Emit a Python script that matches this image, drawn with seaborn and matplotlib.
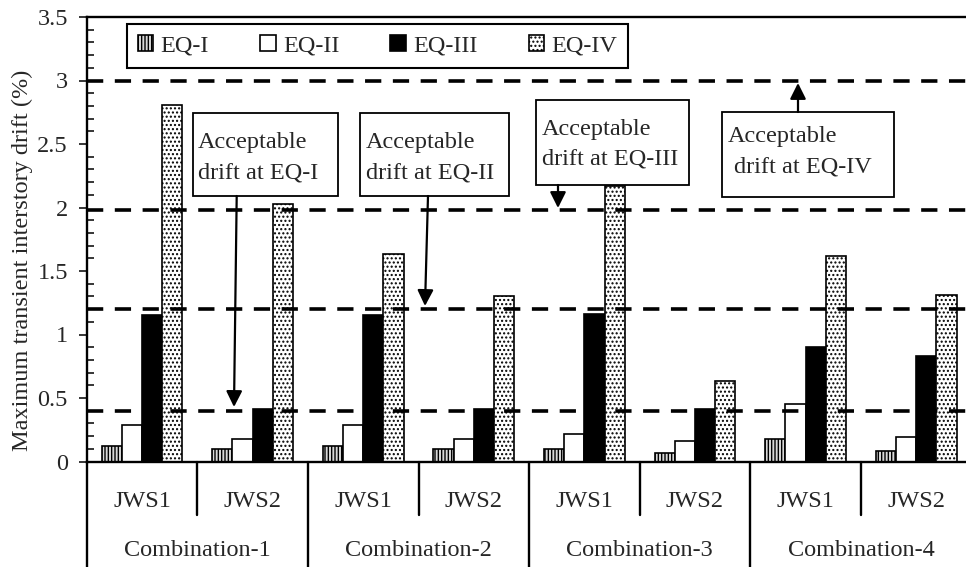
import numpy as np
import pandas as pd
import matplotlib
matplotlib.use('Agg')
import matplotlib.pyplot as plt
import seaborn as sns
from matplotlib.patches import Rectangle, Patch
from matplotlib.lines import Line2D
import matplotlib.transforms as mtrans
from matplotlib.ticker import MultipleLocator, FuncFormatter

# ---------------- data ----------------
combinations = ['Combination-1', 'Combination-2', 'Combination-3', 'Combination-4']
walls = ['JWS1', 'JWS2']
eq_levels = ['EQ-I', 'EQ-II', 'EQ-III', 'EQ-IV']
eq1 = [0.12, 0.10, 0.12, 0.10, 0.10, 0.07, 0.18, 0.08]
eq2 = [0.285, 0.18, 0.285, 0.18, 0.22, 0.16, 0.45, 0.195]
eq3 = [1.15, 0.41, 1.15, 0.41, 1.165, 0.41, 0.90, 0.83]
eq4 = [2.81, 2.03, 1.63, 1.30, 2.17, 0.63, 1.62, 1.31]
limit_values = [0.4, 1.2, 1.98, 3.0]
note_line1 = 'Acceptable'
note_line2 = ['drift at EQ-I', 'drift at EQ-II', 'drift at EQ-III', 'drift at EQ-IV']
y_label = 'Maximum transient interstory drift (%)'

# ---------------- style ----------------
sns.set_style('white')
plt.rcParams['font.family'] = ['Liberation Serif', 'DejaVu Serif']
plt.rcParams['hatch.linewidth'] = 1.0
plt.rcParams['hatch.color'] = 'black'

slots = [f'{c}|{w}' for c in combinations for w in walls]
rows = []
for lvl, vals in zip(eq_levels, [eq1, eq2, eq3, eq4]):
    for s, v in zip(slots, vals):
        rows.append(dict(slot=s, level=lvl, drift=v))
df = pd.DataFrame(rows)

W, H = 966, 567
fig = plt.figure(figsize=(W / 100, H / 100), dpi=100)
AX_L, AX_R, AX_T, AX_B = 86.7, 971.5, 17.0, 461.5
ax = fig.add_axes([AX_L / W, 1 - AX_B / H, (AX_R - AX_L) / W, (AX_B - AX_T) / H])

face = {'EQ-I': '#d9d9d9', 'EQ-II': 'white', 'EQ-III': 'black', 'EQ-IV': 'white'}
hatch = {'EQ-I': '|||||', 'EQ-II': None, 'EQ-III': None, 'EQ-IV': '....'}

sns.barplot(data=df, x='slot', y='drift', hue='level', order=slots, hue_order=eq_levels,
            palette=face, width=0.73, gap=0, saturation=1, edgecolor='black',
            linewidth=1.2, legend=False, errorbar=None, ax=ax)
for lvl, cont in zip(eq_levels, ax.containers):
    for p in cont:
        if hatch[lvl]:
            p.set_hatch(hatch[lvl])

ax.set_xlim(-0.5, 7.5)
ax.set_ylim(0, 3.5)
ax.set_xlabel('')
ax.set_ylabel('')
ax.yaxis.set_major_locator(MultipleLocator(0.5))
ax.yaxis.set_minor_locator(MultipleLocator(0.1))
ax.yaxis.set_major_formatter(FuncFormatter(lambda v, _: f'{v:g}'))
ax.tick_params(axis='y', which='major', direction='out', length=5.8, width=1.3,
               labelsize=17.5, pad=7.7, left=True)
ax.tick_params(axis='y', which='minor', direction='in', length=5, width=1.3, left=True)
ax.tick_params(axis='x', length=0, labelbottom=False)
for side in ['left', 'top', 'bottom']:
    ax.spines[side].set_visible(True)
    ax.spines[side].set_linewidth(1.7)
    ax.spines[side].set_color('black')
ax.spines['right'].set_visible(False)

for v in limit_values:
    ax.axhline(v, color='black', lw=2.6, dashes=(4.5, 3.2), zorder=3)

# legend
handles = [Patch(facecolor=face[l], edgecolor='black', hatch=hatch[l], lw=1.2) for l in eq_levels]
leg = ax.legend(handles, eq_levels, ncol=4, loc='center',
                bbox_to_anchor=(377.5 / W, 1 - 46 / H), bbox_transform=fig.transFigure,
                frameon=True, fancybox=False, edgecolor='black', framealpha=1,
                fontsize=17.5, handlelength=0.64, handleheight=0.64, handletextpad=0.3,
                columnspacing=2.1, borderpad=0.45, borderaxespad=0)
leg.get_frame().set_linewidth(1.5)


# ---------------- annotations ----------------
def dx(px):
    return (px - AX_L) / (AX_R - AX_L) * 8 - 0.5


def dy(py):
    return (AX_B - py) / (AX_B - AX_T) * 3.5


boxes = [
    # (x0, y0, x1, y1, text_x1, text_x2, base1, base2, arrow_from, arrow_to)
    (193, 113, 338, 196, 198, 198, 148, 178, (236.7, 196), (234, 407)),
    (360, 113, 509, 196, 366, 366, 148, 178, (428, 196), (425, 306)),
    (536, 100, 689, 185, 542, 542, 135, 165, (558, 185), (558, 208)),
    (722, 112, 894, 197, 728, 734, 142, 172, (798, 112), (798, 83)),
]
for (x0, y0, x1, y1, tx1, tx2, b1, b2, af, at), line2 in zip(boxes, note_line2):
    ax.add_patch(Rectangle((dx(x0), dy(y1)), dx(x1) - dx(x0), dy(y0) - dy(y1),
                           facecolor='white', edgecolor='black', lw=1.3, zorder=4))
    ax.text(dx(tx1), dy(b1), note_line1, fontsize=17.5, ha='left', va='baseline', zorder=5)
    ax.text(dx(tx2), dy(b2), line2, fontsize=17.5, ha='left', va='baseline', zorder=5)
    ax.annotate('', xy=(dx(at[0]), dy(at[1])), xytext=(dx(af[0]), dy(af[1])),
                arrowprops=dict(arrowstyle='-|>', color='black', lw=1.6,
                                mutation_scale=24, shrinkA=0, shrinkB=0),
                zorder=4)

# two-level category axis
trans = mtrans.blended_transform_factory(ax.transData, ax.transAxes)
axh = AX_B - AX_T
for i, s in enumerate(slots):
    ax.text(i, (AX_B - 507) / axh, s.split('|')[1], transform=trans, fontsize=17.5,
            ha='center', va='baseline', clip_on=False)
for k, c in enumerate(combinations):
    ax.text(2 * k + 0.5, (AX_B - 556.5) / axh, c, transform=trans, fontsize=17.5,
            ha='center', va='baseline', clip_on=False)
for j in range(len(slots) + 1):
    b = j - 0.5
    y_end = (AX_B - 570) / axh if j % 2 == 0 else (AX_B - 515) / axh
    ax.add_line(Line2D([b, b], [0, y_end], transform=trans, color='black', lw=1.7,
                       clip_on=False))

fig.text(22 / W, 1 - 260 / H, y_label, rotation=90, ha='center', va='center', fontsize=17.5)

fig.savefig('out.png', dpi=100)
